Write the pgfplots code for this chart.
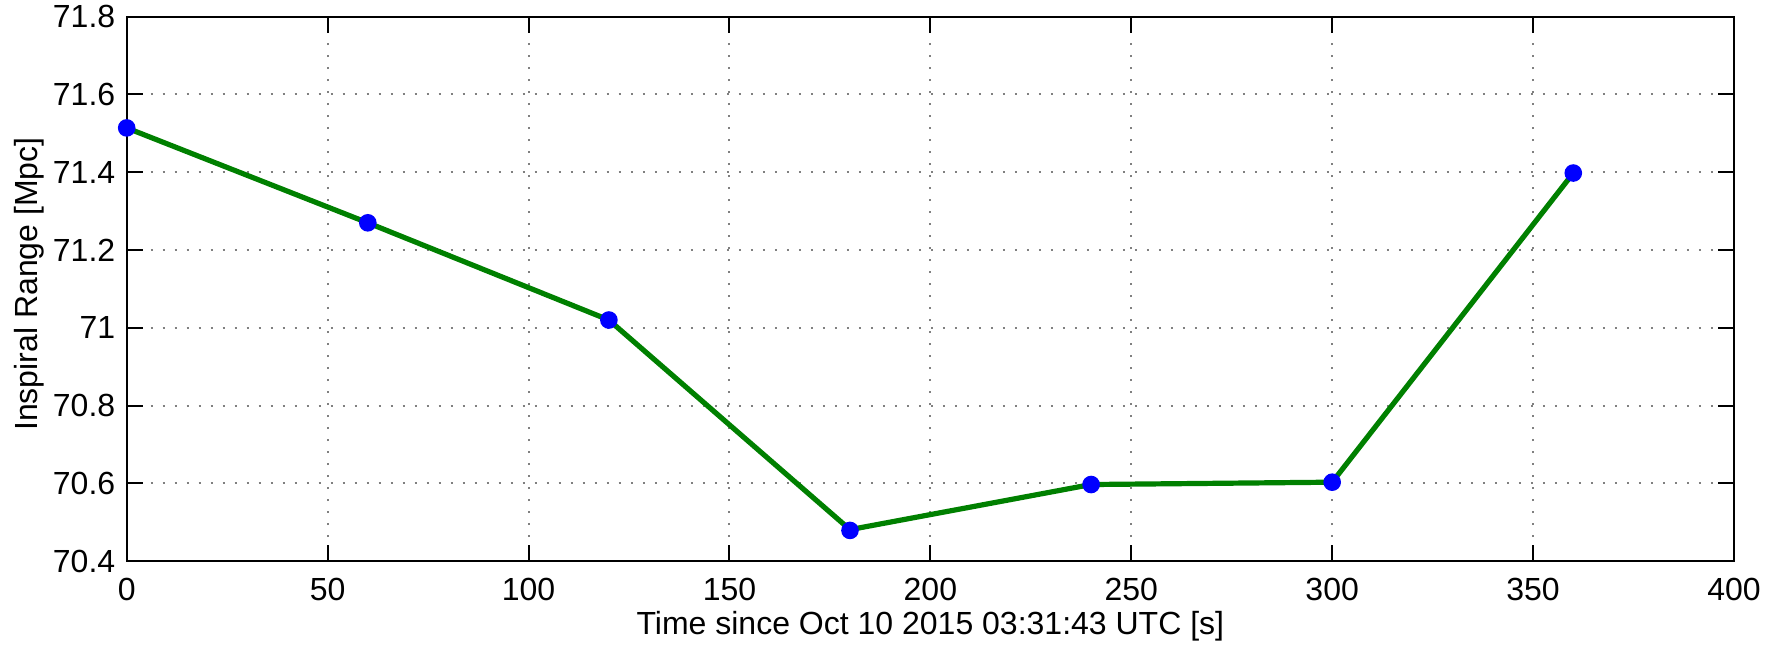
\documentclass[border=0pt]{standalone}
\usepackage{fontspec}
\setmainfont{Liberation Sans}
\usepackage{pgfplots}
\pgfplotsset{compat=1.18}
\definecolor{mgreen}{rgb}{0,0.5,0}
\begin{document}
\fontsize{8}{9.6}\selectfont
\begin{tikzpicture}
\begin{axis}[name=ax, scale only axis, width=401.8pt, height=136.1pt,
  xmin=0, xmax=400, ymin=70.4, ymax=71.8,
  xtick={0,50,100,150,200,250,300,350,400},
  ytick={70.4,70.6,70.8,71,71.2,71.4,71.6,71.8},
  yticklabels={70.4,70.6,70.8,71,71.2,71.4,71.6,71.8},
  /pgf/number format/assume math mode=true,
  tick align=inside, major tick length=4pt,
  tick style={black, line width=0.5pt},
  grid=major,
  major grid style={gray, dash pattern=on 0.5pt off 2.5pt, line width=0.5pt},
  axis line style={line width=0.5pt},
  tick label style={font=\fontsize{8}{9.6}\selectfont},
  label style={font=\fontsize{8}{9.6}\selectfont},
  xticklabel style={yshift=-1.3pt},
  xlabel={Time since Oct 10 2015 03:31:43 UTC [s]},
  ylabel={Inspiral Range [Mpc]},
  xlabel style={at={(axis description cs:0.5,0)}, anchor=base, yshift=-18.25pt},
  ylabel style={at={(axis description cs:-0.0552,0.509)}, anchor=base},
  clip=false]
\addplot[only marks, mark=*, mark size=2pt, mark options={draw=blue, fill=blue}] table {
x y
0 71.514
60 71.270
120 71.020
180 70.479
240 70.597
300 70.603
360 71.398
};
\addplot[mgreen, line width=1.3pt, no marks] table {
x y
0 71.514
60 71.270
120 71.020
180 70.481
240 70.597
300 70.603
360 71.398
};
\end{axis}
\pgfresetboundingbox
\path ([xshift=-31.675pt,yshift=-21.5pt]ax.south west) rectangle ([xshift=12.75pt,yshift=4.175pt]ax.north east);
\end{tikzpicture}
\end{document}
